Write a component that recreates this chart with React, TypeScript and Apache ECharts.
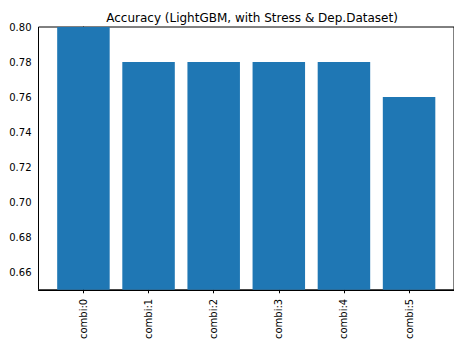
import React, { useEffect, useRef } from "react";
import * as echarts from "echarts";

const categories = ["combi:0", "combi:1", "combi:2", "combi:3", "combi:4", "combi:5"];
const accuracy = [0.8, 0.78, 0.78, 0.78, 0.78, 0.76];
const yTicks = [0.66, 0.68, 0.7, 0.72, 0.74, 0.76, 0.78, 0.8];
const titleText = "Accuracy (LightGBM, with Stress & Dep.Dataset)";

export default function App() {
  const ref = useRef<HTMLDivElement>(null);
  useEffect(() => {
    if (!ref.current) return;
    const chart = echarts.init(ref.current, null, { renderer: "svg" });
    const font = "DejaVu Sans";
    const idx = categories.map((_, i) => i);
    chart.setOption({
      animation: false,
      textStyle: { fontFamily: font },
      title: {
        text: titleText,
        left: 247,
        top: 7,
        textAlign: "center",
        textStyle: { fontFamily: font, fontSize: 12, fontWeight: "normal", color: "#000" },
      },
      grid: {
        left: 38.5,
        right: -3,
        top: 27,
        bottom: 49,
        show: true,
        borderColor: "#000",
        borderWidth: 1,
        backgroundColor: "transparent",
      },
      xAxis: {
        type: "value",
        min: -0.69,
        max: 5.69,
        splitLine: { show: false },
        axisLine: { show: true, lineStyle: { color: "#000", width: 1 } },
        axisTick: { show: true, customValues: idx, length: 3.5, lineStyle: { color: "#000" } },
        axisLabel: {
          customValues: idx,
          rotate: 90,
          margin: 9,
          fontSize: 10,
          color: "#000",
          fontFamily: font,
          formatter: (v: number) => categories[Math.round(v)] ?? "",
        },
      },
      yAxis: {
        type: "value",
        min: 0.65,
        max: 0.8,
        splitLine: { show: false },
        axisLine: { show: true, lineStyle: { color: "#000", width: 1 } },
        axisTick: { show: true, customValues: yTicks, length: 3.5, lineStyle: { color: "#000" } },
        axisLabel: {
          customValues: yTicks,
          margin: 7,
          fontSize: 10,
          color: "#000",
          fontFamily: font,
          formatter: (v: number) => v.toFixed(2),
        },
      },
      series: [
        {
          type: "bar",
          data: accuracy.map((v, i) => [i, v]),
          barWidth: 52.5,
          itemStyle: { color: "#1f77b4" },
          clip: true,
        },
      ],
    });
    return () => chart.dispose();
  }, []);
  return <div ref={ref} style={{ width: 454, height: 342, position: "absolute", left: 0, top: 0 }} />;
}
